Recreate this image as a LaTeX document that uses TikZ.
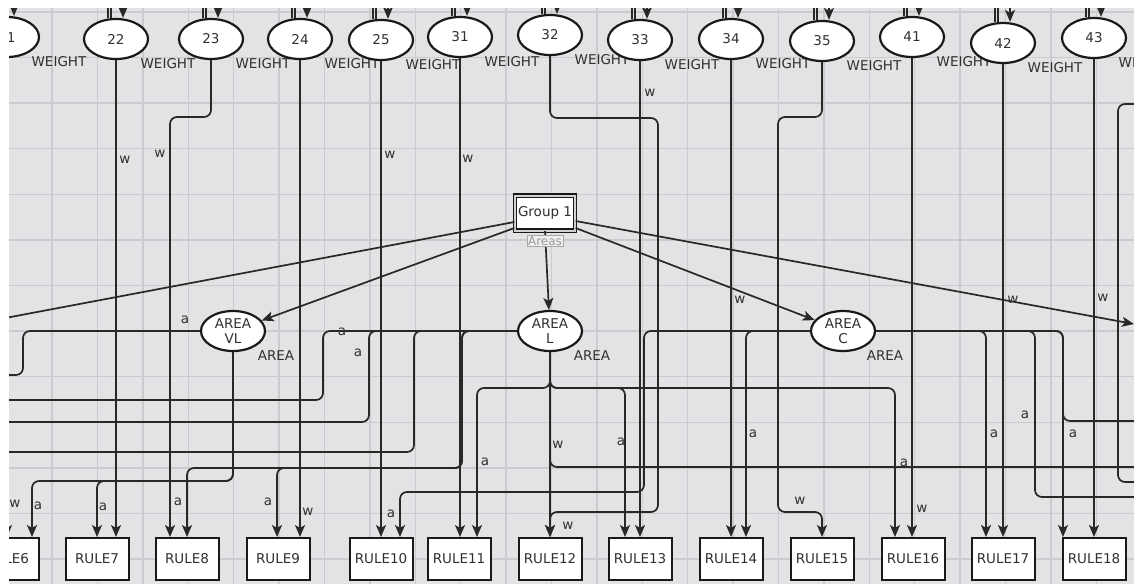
\documentclass[tikz,border=0pt]{standalone}
\usepackage{fontspec}
\setmainfont{DejaVu Sans}
\usetikzlibrary{shapes.geometric,arrows.meta,calc}
\definecolor{bgc}{RGB}{227,227,229}
\definecolor{gridc}{RGB}{203,203,207}
\definecolor{linec}{RGB}{40,40,40}
\definecolor{txtc}{RGB}{48,48,48}
\tikzset{
  num/.style={ellipse,draw=black!90,line width=2.2pt,fill=white,minimum width=64pt,minimum height=40pt,inner sep=0pt,text=txtc,font=\fontsize{13.5}{15}\selectfont},
  areanode/.style={num,align=center},
  rulebox/.style={rectangle,draw=black!90,line width=2pt,fill=white,minimum width=63pt,minimum height=42pt,inner sep=0pt,text=txtc,font=\fontsize{13.5}{15}\selectfont},
  conn/.style={draw=linec,line width=1.7pt,rounded corners=7pt},
  arr/.style={-{Stealth[length=12pt,width=10pt,inset=3pt]}},
  lbl/.style={text=txtc,inner sep=0pt,font=\fontsize{13.5}{15}\selectfont},
  gridline/.style={draw=gridc,line width=1.4pt}
}
\begin{document}
\begin{tikzpicture}[x=1pt,y=-1pt]
\useasboundingbox (0,0) rectangle (1134,584);
\fill[white] (0,0) rectangle (1134,584);
\begin{scope}
\clip (9,8) rectangle (1134,584);
\fill[bgc] (9,8) rectangle (1134,584);
\foreach \i in {0,...,24} \draw[gridline] (6.6+45.4*\i,0) -- ++(0,584);
\foreach \j in {0,...,12} \draw[gridline] (0,11.8+45.6*\j) -- ++(1134,0);

% top ellipses
\foreach \n/\x/\y in {21/7/37,22/116/39,23/211/39,24/300/39,25/381/40,31/460/37,32/550/35,33/640/40,34/731/39,35/822/41,41/912/37,42/1003/43,43/1094/38}{
  \node[num] (e\n) at (\x,\y) {\n};
  \node[lbl] at ($(e\n)+(52,25)$) {WEIGHT};
  \coordinate (ta\n) at (\x-8,0);
  \coordinate (tb\n) at (\x-5,0);
  \coordinate (tc\n) at (\x+7,0);
  \draw[conn] (ta\n) -- ([xshift=-8]e\n.north);
  \draw[conn] (tb\n) -- ([xshift=-5]e\n.north);
  \draw[conn,arr] (tc\n) -- ([xshift=7]e\n.north);
}

% rule boxes
\foreach \n/\x in {6/7,7/97,8/187,9/278,10/381,11/459,12/550,13/640,14/731,15/822,16/913,17/1003,18/1094}
  \node[rulebox] (r\n) at (\x,559) {RULE\n};

% group and area nodes
\node[draw=black!90,line width=1.3pt,double=gray!35,double distance=2pt,fill=white,minimum width=60pt,minimum height=35pt,inner sep=0pt,text=txtc,font=\fontsize{13.5}{15}\selectfont] (grp) at (545,213) {Group 1};
\node[areanode] (avl) at (233,331) {AREA\\VL};
\node[areanode] (al) at (550,331) {AREA\\L};
\node[areanode] (ac) at (843,331) {AREA\\C};
\node[lbl] at ($(avl)+(43,25)$) {AREA};
\node[lbl] at ($(al)+(42,25)$) {AREA};
\node[lbl] at ($(ac)+(42,25)$) {AREA};

% free ends
\coordinate (outL) at (0,319);
\coordinate (outR) at (1134,324);
\coordinate (outVL) at (0,375);
\coordinate (outA) at (0,400);
\coordinate (outB) at (0,422);
\coordinate (outC) at (0,452);
\coordinate (outD) at (1140,467);
\coordinate (outE) at (1140,497);
\coordinate (outF) at (1140,421);
\coordinate (inG) at (1140,104);
\coordinate (outG) at (1140,482);

% weight connectors
\draw[conn,arr] (e21.south) -- (e21.south |- r6.north);
\draw[conn,arr] (e22.south) -- (e22.south |- r7.north);
\draw[conn,arr] (e23.south) -- (211,117) -- (170,117) -- ([xshift=-17]r8.north);
\draw[conn,arr] (e24.south) -- (e24.south |- r9.north);
\draw[conn,arr] (e25.south) -- (e25.south |- r10.north);
\draw[conn,arr] (e31.south) -- (e31.south |- r11.north);
\draw[conn,arr] (e32.south) -- (550,118) -- (658,118) -- (658,512) -- (550,512) -- (r12.north);
\draw[conn,arr] (e33.south) -- (e33.south |- r13.north);
\draw[conn,arr] (e34.south) -- (e34.south |- r14.north);
\draw[conn,arr] (e35.south) -- (822,117) -- (778,117) -- (778,512) -- (822,512) -- (r15.north);
\draw[conn,arr] (e41.south) -- (e41.south |- r16.north);
\draw[conn,arr] (e42.south) -- (e42.south |- r17.north);
\draw[conn,arr] (e43.south) -- (e43.south |- r18.north);

% group connectors
\draw[conn] ($(grp.west)+(0,9)$) -- (outL);
\draw[conn,arr] ($(grp.west)+(0,15)$) -- (avl);
\draw[conn,arr] (grp.south) -- (al);
\draw[conn,arr] ($(grp.east)+(0,15)$) -- (ac);
\draw[conn,arr] ($(grp.east)+(0,8)$) -- (outR);

% AREA VL
\draw[conn,arr] (avl.south) -- (233,481) -- (32,481) -- ([xshift=25]r6.north);
\draw[conn,arr] (avl.south) -- (233,481) -- (97,481) -- (r7.north);
\draw[conn] (avl.west) -- (23,331) -- (23,375) -- (outVL);

% AREA L
\draw[conn] (al.west) -- (323,331) -- (323,400) -- (outA);
\draw[conn] (al.west) -- (369,331) -- (369,422) -- (outB);
\draw[conn] (al.west) -- (414,331) -- (414,452) -- (outC);
\draw[conn,arr] (al.west) -- (462,331) -- (462,468) -- (187,468) -- (r8.north);
\draw[conn,arr] (al.west) -- (462,331) -- (462,468) -- (277,468) -- ([xshift=-1]r9.north);
\draw[conn,arr] (al.south) -- (550,388) -- (477,388) -- ([xshift=18]r11.north);
\draw[conn,arr] (al.south) -- (550,388) -- (625,388) -- ([xshift=-15]r13.north);
\draw[conn,arr] (al.south) -- (550,388) -- (895,388) -- ([xshift=-18]r16.north);
\draw[conn,arr] (al.south) -- (r12.north);
\draw[conn] (al.south) -- (550,467) -- (outD);

% AREA C
\draw[conn,arr] (ac.west) -- (644,331) -- (644,492) -- (400,492) -- ([xshift=19]r10.north);
\draw[conn,arr] (ac.west) -- (746,331) -- ([xshift=15]r14.north);
\draw[conn,arr] (ac.east) -- (986,331) -- ([xshift=-17]r17.north);
\draw[conn] (ac.east) -- (1035,331) -- (1035,497) -- (outE);
\draw[conn,arr] (ac.east) -- (1063,331) -- ([xshift=-31]r18.north);
\draw[conn] (ac.east) -- (1063,331) -- (1063,421) -- (outF);

% right-edge loop
\draw[conn] (inG) -- (1118,104) -- (1118,482) -- (outG);

% Areas label
\node[draw=gray!70,fill=gray!12,text=gray!80,inner sep=1pt,font=\fontsize{12}{13}\selectfont] (areas) at (545,241) {Areas};

% edge labels
\foreach \p in {(185,320),(342,332),(358,353),(38,506),(103,507),(178,502),(268,502),(391,514),(485,462),(621,442),(753,434),(904,463),(994,434),(1025,415),(1073,434)}
  \node[lbl] at \p {a};
\foreach \p in {(125,160),(160,154),(390,155),(468,159),(650,93),(740,300),(1013,300),(1103,298),(15,504),(308,512),(568,526),(558,445),(800,501),(922,509)}
  \node[lbl] at \p {w};
\end{scope}
\end{tikzpicture}
\end{document}
